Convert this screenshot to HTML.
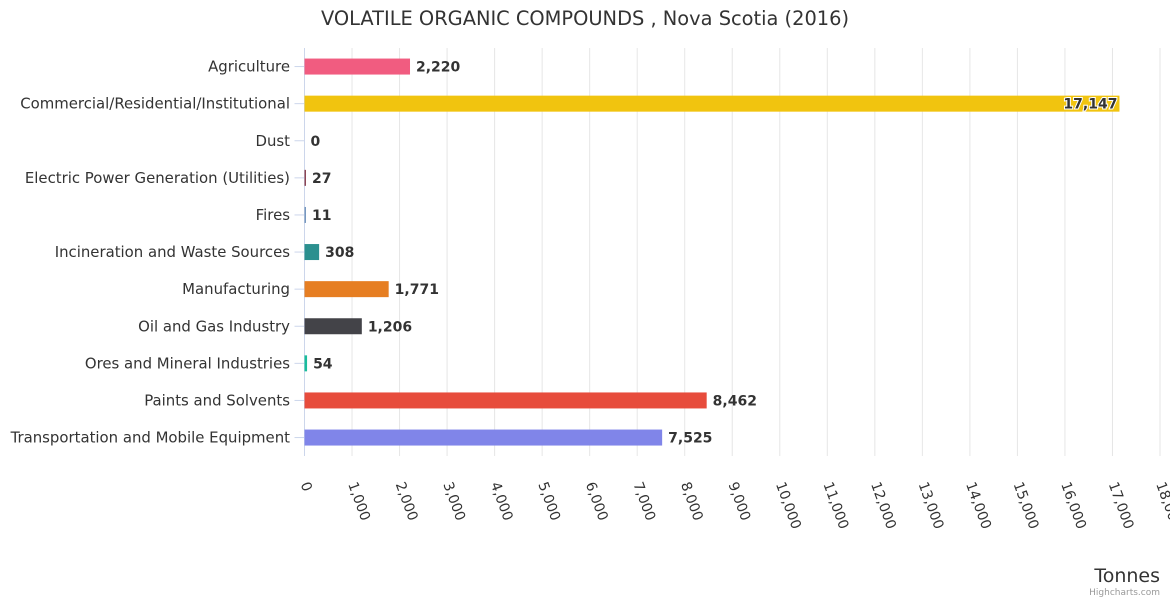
<!DOCTYPE html>
<html><head><meta charset="utf-8"><style>
body{margin:0;background:#fff;}
svg{display:block;font-family:"DejaVu Sans","Liberation Sans",sans-serif;}
</style></head><body>
<svg id="c" width="1170" height="600">
<text x="585" y="25" text-anchor="middle" font-size="19.4" fill="#333">VOLATILE ORGANIC COMPOUNDS , Nova Scotia (2016)</text>
<g id="grid"></g><g id="bars"></g><g id="cats"></g><g id="ticks"></g>
<text x="1160" y="582" text-anchor="end" font-size="19" fill="#333">Tonnes</text>
<text x="1160" y="595" text-anchor="end" font-size="9" fill="#999">Highcharts.com</text>
</svg>
<script>
const categories=["Agriculture","Commercial/Residential/Institutional","Dust","Electric Power Generation (Utilities)","Fires","Incineration and Waste Sources","Manufacturing","Oil and Gas Industry","Ores and Mineral Industries","Paints and Solvents","Transportation and Mobile Equipment"];
const values=[2220,17147,0,27,11,308,1771,1206,54,8462,7525];
const colors=["#f15c80","#f1c40f","#8085e9","#8d4654","#7798bf","#2b908f","#e67e22","#434348","#1abc9c","#e74c3c","#8085e9"];
const tickValues=[0,1000,2000,3000,4000,5000,6000,7000,8000,9000,10000,11000,12000,13000,14000,15000,16000,17000,18000];
const NS="http://www.w3.org/2000/svg";
const x0=304.5,x1=1160,xmax=18000,plotTop=48,rowH=37.1;
const xs=v=>x0+(x1-x0)*v/xmax;
const yc=i=>plotTop+rowH*(i+0.5);
function mk(t,a,p){const e=document.createElementNS(NS,t);for(const k in a)e.setAttribute(k,a[k]);p.appendChild(e);return e;}
const g=document.getElementById('grid'),b=document.getElementById('bars'),c=document.getElementById('cats'),tk=document.getElementById('ticks');
tickValues.forEach((v,i)=>{
 const l=mk('line',{x1:xs(v),x2:xs(v),y1:plotTop,y2:456,stroke:i==0?'#ccd6eb':'#e6e6e6','stroke-width':1},g);
 
 
 const t=mk('text',{x:xs(v)-4,y:484,'font-size':14,fill:'#333',transform:`rotate(70 ${xs(v)-4} 484)`},tk);
 t.textContent=v.toLocaleString('en-US');
 
 
});
categories.forEach((cat,i)=>{
 const y=yc(i);
 const tl=mk('line',{x1:x0-10,x2:x0,y1:y,y2:y,stroke:'#ccd6eb'},g);
 
 
 const t=mk('text',{x:290,y:y+5,'text-anchor':'end','font-size':14.9,fill:'#333'},c);
 t.textContent=cat;
 
 
 const w=Math.max(xs(values[i])-x0,values[i]>0?1.5:0);
 const r=mk('rect',{x:x0,y:y-8,width:w,height:16,fill:colors[i]},b);
 
 
 const inside=values[i]>15000;
 const lb=mk('text',{x:inside?xs(values[i])-2:x0+w+6,y:y+5,'text-anchor':inside?'end':'start','font-size':14,'font-weight':'bold',fill:'#333',stroke:inside?'#fff':'none','stroke-width':inside?2:0,'paint-order':'stroke'},b);
 lb.textContent=values[i].toLocaleString('en-US');
 
 
});
</script>
</body></html>
